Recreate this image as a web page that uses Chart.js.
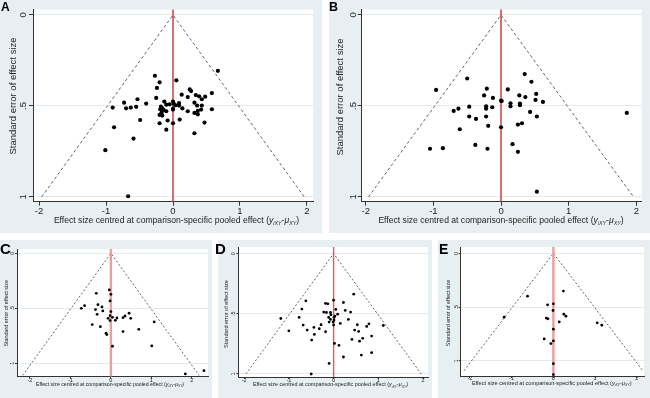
<!DOCTYPE html>
<html>
<head>
<meta charset="utf-8">
<script src="https://cdn.jsdelivr.net/npm/chart.js@4.4.0/dist/chart.umd.min.js"></script>
<style>
  body { margin: 0; width: 650px; height: 398px; position: relative; overflow: hidden; background: #fff;
         font-family: "Liberation Sans", Arial, sans-serif; }
  .panel { position: absolute; background: #e8eff2; }
  .panel canvas { display: block; }
  .tag { position: absolute; font-weight: bold; color: #000; line-height: 1; }
</style>
</head>
<body>
<script>
/* ---------- data ---------- */
const xTickVals = [-2, -1, 0, 1, 2];
const xTickText = ['-2', '-1', '0', '1', '2'];
const yTickVals = [0, 0.5, 1];
const yTickText = ['0', '.5', '1'];
const panelLetters = ['A', 'B', 'C', 'D', 'E'];
const yTitle = 'Standard error of effect size';
const xTitleText = 'Effect size centred at comparison-specific pooled effect (';

// effect size centred (x) and standard error (y), one pair of arrays per panel
const aX = [0.67, -0.27, -0.20, 0.05, -0.24, -0.25, 0.25, 0.27, 0.58, 0.13, 0.22, 0.34, 0.39, 0.48, 0.43, 0.32, 0.36, 0.43, 0.37, 0.32, 0.37, 0.58, 0.47, 0.32, 0.22, 0.14, 0.09, 0.04, 0.01, 0.00, -0.05, -0.10, -0.13, -0.18, -0.16, -0.14, -0.10, -0.20, -0.16, -0.08, -0.20, -0.10, 0.00, 0.10, 0.00, 0.00, -0.40, -0.53, -0.55, -0.63, -0.70, -0.73, -0.90, -0.49, -0.88, -0.59, -1.01, -0.67, -0.19, 0.09, -0.17, 0.42];
const aSE = [0.307, 0.334, 0.370, 0.359, 0.401, 0.456, 0.409, 0.418, 0.429, 0.438, 0.451, 0.440, 0.447, 0.449, 0.463, 0.482, 0.498, 0.498, 0.527, 0.538, 0.546, 0.518, 0.591, 0.650, 0.529, 0.513, 0.484, 0.496, 0.487, 0.476, 0.491, 0.493, 0.476, 0.504, 0.513, 0.522, 0.529, 0.549, 0.553, 0.580, 0.595, 0.630, 0.595, 0.575, 0.520, 0.515, 0.487, 0.463, 0.505, 0.509, 0.513, 0.482, 0.509, 0.577, 0.617, 0.679, 0.743, 0.996, 0.518, 0.498, 0.536, 0.520];

const bX = [0.35, -0.50, 0.45, -0.96, -0.21, 0.10, 0.52, -0.25, 0.27, 0.36, -0.12, 0.51, 0.62, 0.00, 0.01, 0.14, 0.28, 0.28, 0.14, -0.22, -0.22, -0.13, -0.47, -0.63, -0.70, 0.43, 0.53, 1.86, -0.47, -0.37, -0.22, 0.31, 0.25, -0.19, 0.00, -0.61, -0.38, 0.17, 0.25, -0.86, -1.05, -0.20, 0.53];
const bSE = [0.325, 0.349, 0.367, 0.412, 0.405, 0.409, 0.434, 0.442, 0.442, 0.451, 0.456, 0.467, 0.478, 0.471, 0.473, 0.485, 0.487, 0.496, 0.502, 0.502, 0.515, 0.507, 0.504, 0.515, 0.527, 0.533, 0.558, 0.538, 0.558, 0.571, 0.558, 0.595, 0.602, 0.609, 0.617, 0.628, 0.714, 0.710, 0.752, 0.732, 0.735, 0.735, 0.971];

const cX = [-0.04, -0.36, 0.00, -0.02, -0.32, -0.65, -0.22, -0.73, -0.38, -0.20, 0.00, -0.34, 0.45, -0.02, 0.35, 0.04, 0.30, 0.49, -0.07, 0.15, 0.11, -0.02, 1.07, -0.46, -0.26, 0.69, 0.30, -0.12, -0.10, 0.04, 1.01, 1.84, 2.30];
const cSE = [0.333, 0.364, 0.373, 0.433, 0.467, 0.476, 0.488, 0.500, 0.512, 0.524, 0.530, 0.555, 0.545, 0.567, 0.570, 0.582, 0.585, 0.591, 0.591, 0.588, 0.609, 0.612, 0.624, 0.648, 0.667, 0.691, 0.712, 0.727, 0.739, 0.845, 0.842, 1.097, 1.067];

const dX = [0.45, -0.62, 0.00, 0.22, -0.18, -0.13, -0.71, 0.26, 0.05, -0.22, -0.16, -0.07, 0.38, 0.09, -0.06, 0.03, 0.01, -0.11, -0.77, -1.18, -0.07, 0.33, 0.01, -0.01, -0.10, 0.15, 0.53, 0.00, 0.79, 0.74, 1.11, -0.68, -0.28, -0.44, -0.32, -1.00, -0.59, 0.47, 0.56, -0.43, -0.18, 0.85, 0.65, 0.58, 0.41, -0.49, 0.02, 0.12, 0.85, 0.62, 0.22, -0.10, -0.50];
const dSE = [0.337, 0.392, 0.387, 0.406, 0.414, 0.417, 0.461, 0.472, 0.464, 0.486, 0.489, 0.489, 0.486, 0.503, 0.508, 0.519, 0.530, 0.530, 0.530, 0.539, 0.547, 0.547, 0.552, 0.569, 0.569, 0.580, 0.591, 0.594, 0.583, 0.605, 0.597, 0.594, 0.591, 0.613, 0.624, 0.641, 0.635, 0.635, 0.646, 0.671, 0.649, 0.685, 0.704, 0.727, 0.713, 0.718, 0.746, 0.762, 0.823, 0.843, 0.859, 0.912, 1.000];

const eX = [0.24, -0.62, -0.14, 0.00, -0.01, 0.25, 0.30, -0.17, -0.13, -1.18, 0.14, 1.05, 1.16, 0.00, -0.22, 0.00, -0.06, 0.00, 0.00];
const eSE = [0.351, 0.398, 0.478, 0.469, 0.531, 0.565, 0.584, 0.602, 0.609, 0.593, 0.637, 0.646, 0.668, 0.705, 0.795, 0.814, 0.839, 1.025, 1.127];

// pseudo 95% limits (dashed funnel), left end / apex / right end
const funnelX = [[-1.96, 0, 1.96], [-1.96, 0, 1.96], [-2.18, 0, 2.18], [-1.96, 0, 1.96], [-2.14, 0, 2.14]];
const funnelSE = [[1, 0, 1], [1, 0, 1], [1.11, 0, 1.11], [1, 0, 1], [1.09, 0, 1.09]];

// zero line
const refX = [0, 0];
const refSE = [-0.3, 1.3];

const seriesX = [aX, bX, cX, dX, eX];
const seriesSE = [aSE, bSE, cSE, dSE, eSE];

/* ---------- layout per panel ---------- */
const layouts = [
  { box: [0, 0, 322, 233], area: [33, 9.5, 313, 201.7], xr: [-2.09, 2.09], yr: [-0.03, 1.026],
    tick: 9.5, ytitle: 9.5, xtitle: 8.6, tl: 4, r: 2.1,
    yTickX: 23.5, yTitleX: 13.3, yTitleY: 96, xTickY: 211.7, xTitleX: 176.5, xTitleY: 220,
    tag: [1, 0.8, 12], red: '#cf3f3f', redW: 1.5, dash: [3, 2.5] },
  { box: [329, 0, 321, 233], area: [32.7, 9.5, 312.7, 201.7], xr: [-2.06, 2.08], yr: [-0.03, 1.026],
    tick: 9.5, ytitle: 9.5, xtitle: 8.6, tl: 4, r: 2.1,
    yTickX: 24.3, yTitleX: 11, yTitleY: 97, xTickY: 211.7, xTitleX: 172, xTitleY: 220,
    tag: [329, 0.8, 12.5], red: '#cf3f3f', redW: 1.5, dash: [3, 2.5] },
  { box: [0, 240, 212, 158], area: [17, 9, 208, 136.5], xr: [-2.32, 2.40], yr: [-0.039, 1.12],
    tick: 5.5, ytitle: 5.4, xtitle: 5.2, tl: 2, r: 1.4,
    yTickX: 12.7, yTitleX: 6.5, yTitleY: 73.3, xTickY: 140.5, xTitleX: 110, xTitleY: 144,
    tag: [0, 241, 15], red: '#ef9b9b', redW: 2.4, dash: [2, 2] },
  { box: [218, 240, 214, 158], area: [20.3, 7, 210.3, 137], xr: [-2.13, 2.11], yr: [-0.055, 1.025],
    tick: 5.5, ytitle: 5.5, xtitle: 5.45, tl: 2, r: 1.4,
    yTickX: 15.3, yTitleX: 8.7, yTitleY: 74, xTickY: 140.7, xTitleX: 112.5, xTitleY: 144.3,
    tag: [215, 241, 15], red: '#e05a5a', redW: 1.4, dash: [2, 2] },
  { box: [438, 240, 212, 158], area: [22.7, 7, 206, 136], xr: [-2.22, 2.17], yr: [-0.059, 1.14],
    tick: 5.5, ytitle: 5.4, xtitle: 5.6, tl: 2, r: 1.4,
    yTickX: 18, yTitleX: 10.3, yTitleY: 73, xTickY: 138.5, xTitleX: 113.7, xTitleY: 142.5,
    tag: [439, 241.5, 14], red: '#ef9b9b', redW: 2.4, dash: [2, 2] }
];

const FONT = '"Liberation Sans", Arial, sans-serif';
const TEXT = '#222';

/* ---------- plugin: panel background + Stata-style text ---------- */
const stataText = {
  id: 'stataText',
  beforeDraw(chart, args, o) {
    const { ctx, chartArea: a, width, height } = chart;
    ctx.save();
    ctx.fillStyle = '#e8eff2';
    ctx.fillRect(0, 0, width, height);
    ctx.fillStyle = '#fff';
    ctx.fillRect(a.left, a.top, a.right - a.left, a.bottom - a.top);
    ctx.restore();
  },
  afterDraw(chart, args, o) {
    const L = o.L;
    const { ctx, chartArea: a } = chart;
    const xs = chart.scales.x, ys = chart.scales.y;
    ctx.save();
    ctx.fillStyle = TEXT;
    ctx.textAlign = 'center';
    ctx.textBaseline = 'middle';
    ctx.font = L.tick + 'px ' + FONT;
    xTickVals.forEach((v, i) => ctx.fillText(xTickText[i], xs.getPixelForValue(v), L.xTickY));
    yTickVals.forEach((v, i) => {
      ctx.save();
      ctx.translate(L.yTickX, ys.getPixelForValue(v));
      ctx.rotate(-Math.PI / 2);
      ctx.fillText(yTickText[i], 0, 0);
      ctx.restore();
    });
    // y title
    ctx.save();
    ctx.font = L.ytitle + 'px ' + FONT;
    ctx.translate(L.yTitleX, L.yTitleY);
    ctx.rotate(-Math.PI / 2);
    ctx.fillText(yTitle, 0, 0);
    ctx.restore();
    // x title with the small formula
    const s = L.xtitle, sub = s * 0.62;
    const parts = [
      { t: xTitleText, f: s + 'px ' + FONT, dy: 0 },
      { t: 'y', f: 'italic ' + s + 'px ' + FONT, dy: 0 },
      { t: 'iXY', f: 'italic ' + sub + 'px ' + FONT, dy: s * 0.25 },
      { t: '-', f: s + 'px ' + FONT, dy: 0 },
      { t: 'μ', f: 'italic ' + s + 'px ' + FONT, dy: 0 },
      { t: 'XY', f: 'italic ' + sub + 'px ' + FONT, dy: s * 0.25 },
      { t: ')', f: s + 'px ' + FONT, dy: 0 }
    ];
    let total = 0;
    parts.forEach(p => { ctx.font = p.f; p.w = ctx.measureText(p.t).width; total += p.w; });
    let x = L.xTitleX - total / 2;
    ctx.textAlign = 'left';
    ctx.textBaseline = 'alphabetic';
    const base = L.xTitleY + s * 0.36;
    parts.forEach(p => { ctx.font = p.f; ctx.fillText(p.t, x, base + p.dy); x += p.w; });
    ctx.restore();
  }
};

/* ---------- build panels ---------- */
layouts.forEach((L, k) => {
  const div = document.createElement('div');
  div.className = 'panel';
  div.style.left = L.box[0] + 'px';
  div.style.top = L.box[1] + 'px';
  div.style.width = L.box[2] + 'px';
  div.style.height = L.box[3] + 'px';
  const cv = document.createElement('canvas');
  cv.width = L.box[2];
  cv.height = L.box[3];
  div.appendChild(cv);
  document.body.appendChild(div);

  const tag = document.createElement('div');
  tag.className = 'tag';
  tag.textContent = panelLetters[k];
  tag.style.left = L.tag[0] + 'px';
  tag.style.top = L.tag[1] + 'px';
  tag.style.fontSize = L.tag[2] + 'px';
  document.body.appendChild(tag);

  const pts = seriesX[k].map((v, i) => ({ x: v, y: seriesSE[k][i] }));
  const ref = refX.map((v, i) => ({ x: v, y: refSE[i] }));
  const fun = funnelX[k].map((v, i) => ({ x: v, y: funnelSE[k][i] }));

  new Chart(cv, {
    type: 'scatter',
    data: {
      datasets: [
        { data: pts, backgroundColor: '#000', borderWidth: 0, pointRadius: L.r, pointStyle: 'circle' },
        { data: ref, showLine: true, borderColor: L.red, borderWidth: L.redW, pointRadius: 0, fill: false },
        { data: fun, showLine: true, borderColor: '#555', borderWidth: 0.9, borderDash: L.dash,
          pointRadius: 0, fill: false, tension: 0 }
      ]
    },
    options: {
      responsive: false,
      devicePixelRatio: 1,
      animation: false,
      layout: { padding: { left: 0, top: L.area[1], right: L.box[2] - L.area[2], bottom: 0 } },
      plugins: { legend: { display: false }, tooltip: { enabled: false }, stataText: { L } },
      scales: {
        x: {
          type: 'linear', min: L.xr[0], max: L.xr[1],
          afterBuildTicks: sc => { sc.ticks = xTickVals.map(v => ({ value: v })); },
          afterFit: sc => { sc.height = L.box[3] - L.area[3]; },
          ticks: { display: false },
          grid: { drawOnChartArea: false, drawTicks: true, tickLength: L.tl, tickColor: '#333', tickWidth: 1 },
          border: { color: '#333', width: 1 }
        },
        y: {
          type: 'linear', reverse: true, min: L.yr[0], max: L.yr[1],
          afterBuildTicks: sc => { sc.ticks = yTickVals.map(v => ({ value: v })); },
          afterFit: sc => { sc.width = L.area[0]; },
          ticks: { display: false },
          grid: { color: '#e3eaed', lineWidth: 1, drawTicks: true, tickLength: L.tl, tickColor: '#333' },
          border: { color: '#333', width: 1 }
        }
      }
    },
    plugins: [stataText]
  });
});
</script>
</body>
</html>
